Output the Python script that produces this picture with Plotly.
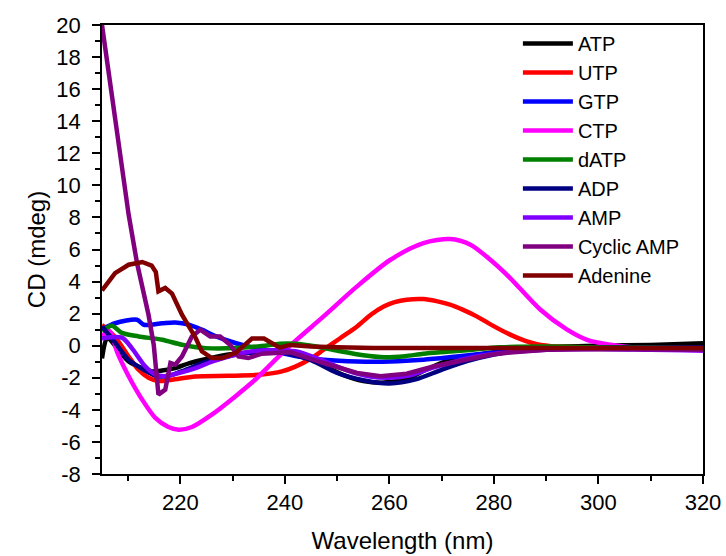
import plotly.graph_objects as go

# ---- data ----
atp_x = [205, 206, 207.5, 210, 212.7, 214.6, 216.5, 219, 221.6, 225.4, 229.2, 235.6, 242, 246, 251, 255, 259, 263, 267, 271, 275, 279, 283, 290, 300, 310, 320]
atp_y = [-0.8, 0.5, 0.0, -0.95, -1.4, -1.6, -1.55, -1.4, -1.1, -0.8, -0.55, -0.4, -0.5, -1.0, -1.8, -2.2, -2.3, -2.1, -1.5, -0.95, -0.65, -0.45, -0.3, -0.1, 0.0, 0.05, 0.15]

utp_x = [205, 207.5, 210.1, 212, 213.9, 215.8, 218.4, 222.9, 229.2, 235.6, 239.4, 242, 245, 247.4, 250.5, 253.8, 256.5, 258.9, 261, 263.3, 266.5, 269, 271.6, 274, 276.7, 279.5, 283.1, 286, 288.2, 292, 300, 310, 320]
utp_y = [1.3, 0.55, -0.67, -1.5, -2.0, -2.2, -2.12, -1.92, -1.88, -1.8, -1.6, -1.3, -0.8, -0.25, 0.45, 1.2, 1.95, 2.45, 2.72, 2.87, 2.91, 2.78, 2.56, 2.25, 1.83, 1.3, 0.69, 0.3, 0.1, -0.05, -0.1, -0.15, -0.2]

gtp_x = [205, 207.5, 211.7, 213, 216.5, 219, 221.6, 224.1, 226.7, 230.5, 234.3, 239.4, 242, 247.4, 253.8, 260.2, 266.5, 272.9, 279.3, 285, 290, 300, 310, 320]
gtp_y = [1.0, 1.4, 1.62, 1.31, 1.4, 1.45, 1.32, 1.0, 0.6, 0.17, -0.15, -0.46, -0.65, -0.87, -0.98, -0.98, -0.87, -0.67, -0.46, -0.3, -0.2, -0.15, -0.15, -0.2]

ctp_x = [205, 206.5, 207.9, 210.1, 212.7, 215.2, 217.7, 219.7, 222.2, 226, 230.5, 234.3, 238.2, 242, 247.4, 253.8, 260.2, 266.5, 271.6, 275.5, 279.3, 283.1, 288.9, 294, 297.8, 301.6, 308, 320]
ctp_y = [0.6, 0.9, -0.4, -1.9, -3.37, -4.5, -5.07, -5.24, -5.07, -4.3, -3.16, -2.12, -0.87, 0.3, 1.83, 3.7, 5.36, 6.4, 6.65, 6.3, 5.36, 4.22, 2.24, 1.0, 0.37, 0.1, -0.15, -0.3]

datp_x = [205, 206.9, 208.8, 212, 216.5, 220.3, 224.8, 230.5, 235.6, 239, 242, 246, 250.6, 255, 259, 263, 266.5, 271, 276, 281, 290, 300, 310, 320]
datp_y = [0.9, 1.25, 0.8, 0.58, 0.37, 0.06, -0.15, -0.15, -0.02, 0.12, 0.12, -0.05, -0.35, -0.6, -0.72, -0.65, -0.5, -0.38, -0.25, -0.1, -0.05, -0.1, -0.1, -0.15]

adp_x = [205, 207.5, 210, 213, 215.5, 218, 221, 225, 230, 235, 240, 245, 250, 255, 260, 265, 270, 275, 280, 285, 290, 300, 310, 320]
adp_y = [1.2, 0.2, -0.85, -1.5, -1.9, -1.85, -1.5, -1.0, -0.6, -0.4, -0.45, -0.9, -1.7, -2.15, -2.35, -2.1, -1.5, -0.95, -0.55, -0.3, -0.2, -0.15, -0.12, -0.1]

amp_x = [205, 208.8, 210.7, 213.3, 215.2, 217.1, 219.7, 222.9, 226, 229.2, 232.4, 237.5, 242, 247, 252, 256, 260, 264, 268, 273, 278, 283, 290, 300, 310, 320]
amp_y = [0.45, 0.5, -0.15, -1.3, -1.8, -1.9, -1.7, -1.4, -1.0, -0.67, -0.42, -0.28, -0.35, -0.9, -1.55, -1.9, -2.0, -1.85, -1.4, -0.95, -0.6, -0.4, -0.25, -0.2, -0.25, -0.3]

camp_x = [205, 207.5, 210.1, 211.7, 213.9, 214.9, 215.8, 217.1, 218.1, 219.0, 220.3, 222.2, 223.8, 225.7, 227.6, 229.5, 231.1, 233.0, 235.6, 238.2, 241, 247.4, 253.8, 258.3, 263.3, 268.4, 274.2, 279.3, 283.1, 290, 300, 310, 320]
camp_y = [20.0, 14.4, 8.17, 5.16, 1.93, 0.06, -3.05, -2.74, -1.08, -1.18, -0.67, 0.58, 1.0, 0.58, 0.58, 0.06, -0.67, -0.77, -0.5, -0.46, -0.4, -1.08, -1.7, -1.9, -1.75, -1.3, -0.87, -0.56, -0.42, -0.25, -0.2, -0.2, -0.25]

ade_x = [205, 207.5, 210.1, 212.7, 214.5, 215.3, 215.8, 217.1, 218.4, 220.3, 222.9, 224.1, 226, 228, 230.5, 233.7, 236, 239, 241, 245, 250, 257, 270, 280, 290, 300, 320]
ade_y = [3.45, 4.53, 5.05, 5.22, 5.0, 4.6, 3.39, 3.6, 3.25, 1.93, 0.5, -0.35, -0.77, -0.77, -0.46, 0.45, 0.45, -0.12, 0.05, -0.05, -0.1, -0.15, -0.15, -0.15, -0.15, -0.15, -0.15]

series = [
    ("ATP", atp_x, atp_y, "#000000", "spline"),
    ("UTP", utp_x, utp_y, "#FF0000", "spline"),
    ("GTP", gtp_x, gtp_y, "#0000FF", "spline"),
    ("CTP", ctp_x, ctp_y, "#FF00FF", "spline"),
    ("dATP", datp_x, datp_y, "#008000", "spline"),
    ("ADP", adp_x, adp_y, "#000080", "spline"),
    ("AMP", amp_x, amp_y, "#8000FF", "spline"),
    ("Cyclic AMP", camp_x, camp_y, "#800080", "linear"),
    ("Adenine", ade_x, ade_y, "#800000", "linear"),
]

x_ticks = [220, 240, 260, 280, 300, 320]
y_ticks = list(range(-8, 21, 2))

FONT = "Arial, Liberation Sans, sans-serif"

fig = go.Figure()
for name, xs, ys, color, shape in series:
    line = dict(color=color, width=4.5, shape=shape)
    if shape == "spline":
        line["smoothing"] = 0.8
    fig.add_trace(go.Scatter(x=xs, y=ys, mode="lines", name=name, line=line))

axis_common = dict(
    showline=True, linecolor="black", linewidth=1.5, mirror=True,
    ticks="outside", ticklen=8, tickwidth=1.5, tickcolor="black",
    showgrid=False, zeroline=False, automargin=False,
    tickfont=dict(family=FONT, size=22, color="black"),
)

fig.update_layout(
    width=726, height=556,
    margin=dict(l=102, r=23, t=25, b=82),
    paper_bgcolor="white", plot_bgcolor="white",
    font=dict(family=FONT, color="black"),
    xaxis=dict(
        range=[205, 320], tickvals=x_ticks, ticktext=[str(v) for v in x_ticks],
        minor=dict(tickvals=[210, 230, 250, 270, 290, 310], ticks="outside", ticklen=5, tickwidth=1.5, tickcolor="black"),
        title=dict(text="Wavelength (nm)", font=dict(family=FONT, size=24), standoff=18),
        **axis_common,
    ),
    yaxis=dict(
        range=[-8, 20], tickvals=y_ticks, ticktext=[str(v) for v in y_ticks],
        ticklabelstandoff=7,
        minor=dict(dtick=1, ticks="outside", ticklen=5, tickwidth=1.5, tickcolor="black"),
        title=dict(text="CD (mdeg)", font=dict(family=FONT, size=24), standoff=4),
        **axis_common,
    ),
    legend=dict(
        x=0.692, y=1.002, xanchor="left", yanchor="top",
        font=dict(family=FONT, size=20, color="black"),
        bgcolor="rgba(0,0,0,0)", borderwidth=0,
        itemwidth=50, tracegroupgap=0,
    ),
    showlegend=True,
)

fig.write_html(
    "out.html",
    config={"displayModeBar": False},
    post_script="document.body.style.margin='0';document.body.style.overflow='hidden';",
)
